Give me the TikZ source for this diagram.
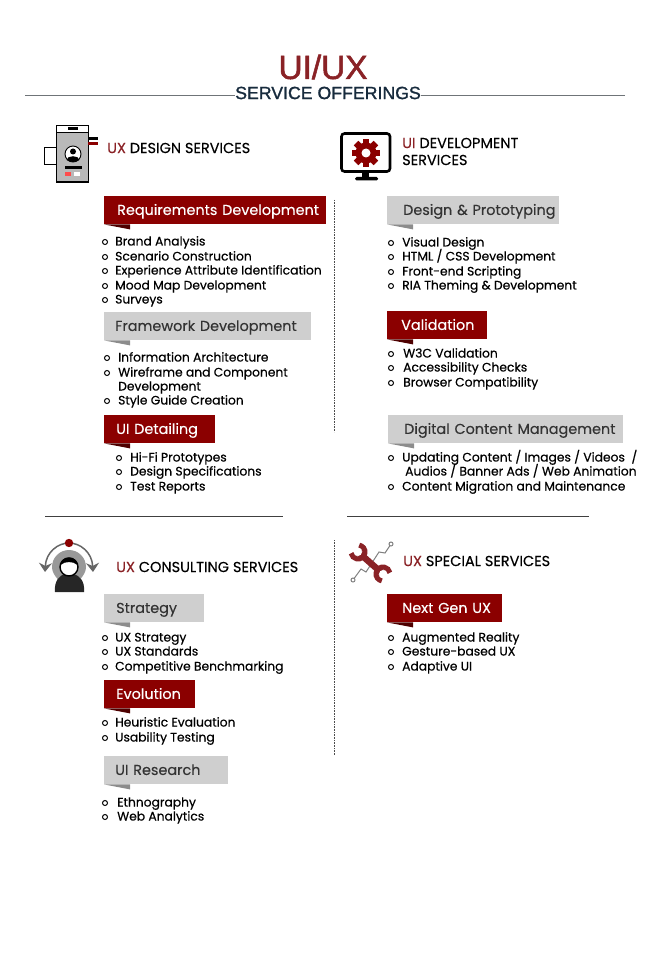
\documentclass[tikz,border=0pt]{standalone}
\usepackage{fontspec}
\usepackage{xcolor}
\setmainfont{Poppins}
\newfontfamily\headfont{Liberation Sans}[FakeBold=1.6]
\newfontfamily\subheadfont{Liberation Sans}[FakeBold=1.3]
\newfontfamily\itemfont{Poppins}[FakeBold=0.5]
\newfontfamily\tagfont{Poppins}[FakeBold=0.2]
\usetikzlibrary{arrows.meta,positioning}
\definecolor{tagred}{HTML}{8B0000}
\definecolor{foldred}{HTML}{4E0000}
\definecolor{tiered}{HTML}{8A2226}
\definecolor{taggrey}{HTML}{CFCFCF}
\definecolor{foldgrey}{HTML}{8C8C8C}
\definecolor{navy}{HTML}{172B3D}
\definecolor{rulegrey}{HTML}{6F7478}
\tikzset{
  titlenode/.style={inner sep=0pt,font=\headfont\fontsize{33.4}{36}\selectfont,text=tiered},
  subtitlenode/.style={inner sep=0pt,font=\subheadfont\fontsize{17.7}{20}\selectfont,text=navy},
  headnode/.style={anchor=west,inner sep=0pt,align=left,font=\tagfont\fontsize{14.5}{17}\selectfont},
  redtag/.style={fill=tagred,text=white},
  greytag/.style={fill=taggrey,text=black!80},
  itemnode/.style={anchor=base west,yshift=-4.5pt,inner sep=0pt,font=\itemfont\fontsize{12.3}{14}\selectfont},
  bulletnode/.style={circle,draw,line width=1pt,inner sep=0pt,minimum size=5pt},
  dotline/.style={densely dotted,line width=0.6pt,black!70},
  sectionrule/.style={line width=0.8pt,rulegrey},
  wrenchline/.style={tiered,line width=5pt}
}
\newcommand{\tagbox}[8]{
  \node[#1,anchor=north west,minimum height=28pt,inner ysep=0pt,inner xsep=#6pt,
    text width=#5pt-2*#6pt,text height=12pt,text depth=2.5pt,align=left,font=\tagfont\fontsize{14.4}{15}\selectfont] (#2) at (#3,#4) {\mbox{#7}};
  \fill[#8] (#2.south west) -- ++(26,0) -- ++(0,5) -- cycle;
}
\newcommand{\rowitem}[5]{
  \node[itemnode] (#1) at (#3,#4) {#5};
  \node[bulletnode] (#1b) at (#2,#4+1) {};
}
\begin{document}
\begin{tikzpicture}[x=1pt,y=-1pt]
  \useasboundingbox (0,0) rectangle (650,957);

  \node[titlenode] (title) at (323,67) {UI/UX};
  \node[subtitlenode] (subtitle) at (328,93) {SERVICE OFFERINGS};
  \coordinate (ruleL) at (25,95);
  \coordinate (ruleR) at (625,95);
  \draw[sectionrule] (ruleL) -- (ruleL -| subtitle.west);
  \draw[sectionrule] (ruleR) -- (ruleR -| subtitle.east);

  \fill[gray!55] (56,125) rectangle (89,182);
  \draw[white,fill=white] (57,126) rectangle (88,132);
  \draw[line width=1.5pt] (56.5,125.5) rectangle (88.5,182);
  \draw[line width=1.5pt] (56.5,132.5) -- (88.5,132.5);
  \fill (68,127.5) rectangle (78,130);
  \draw[line width=1pt,fill=white] (44.5,147.5) rectangle (56,165);
  \fill (88,137) rectangle (98,140);
  \fill[tagred] (88,142) rectangle (98,145);
  \draw[line width=0.9pt,fill=white] (73,154) circle (8);
  \fill (73,151.5) circle (3);
  \fill (66.5,160) .. controls (67,155) and (79,155) .. (79.5,160) .. controls (76,162.5) and (70,162.5) .. (66.5,160);
  \fill (65,166) rectangle (82,169);
  \fill[red!70] (65,172) rectangle (71,176);
  \fill[white] (74,172) rectangle (80,176);

  \draw[line width=2.6pt,rounded corners=3pt] (341.5,133.5) rectangle (390,171.5);
  \fill (362,172) rectangle (369,178);
  \fill[rounded corners=1.5pt] (355,177) rectangle (378,180.5);
  \coordinate (gear) at (366,153);
  \fill[tagred] (gear) circle (10.5);
  \foreach \ang in {0,45,...,315}
    \fill[tagred,rotate around={\ang:(gear)}] (362.8,139) rectangle (369.2,146);
  \fill[white] (gear) circle (4.5);

  \fill[gray!80] (52,567) arc (180:360:17) .. controls (86,575) and (78,582) .. (69,590) .. controls (60,582) and (52,575) .. (52,567);
  \fill[black!85] (55,592) .. controls (54,580) and (60,576) .. (64,574) -- (74,574) .. controls (79,576) and (85,580) .. (84,592) -- cycle;
  \draw[line width=1.4pt,fill=white] (69,567) circle (9);
  \fill (60.5,565) .. controls (61,555) and (77,555) .. (77.5,565) .. controls (73,561) and (65,561) .. (60.5,565);
  \draw[black!60,line width=1.5pt,-{Stealth[length=9pt,width=13pt]}] (69,543) .. controls (58,543) and (46,552) .. (45,572);
  \draw[black!60,line width=1.5pt,-{Stealth[length=9pt,width=13pt]}] (69,543) .. controls (80,543) and (92,552) .. (93,572);
  \fill[tagred] (69,543) circle (4.2);

  \draw[gray,line width=1pt] (353,580) -- (361,569) -- (366,572) -- (379,552) -- (385,553) -- (391,544);
  \draw[gray,line width=1pt,fill=white] (353,580) circle (2);
  \draw[gray,line width=1pt,fill=white] (391,544) circle (2);
  \coordinate (jawa) at (358,552);
  \coordinate (jawb) at (383,574);
  \draw[tiered,line width=6.5pt] (jawa) -- (jawb);
  \fill[white] (jawa) circle (4);
  \fill[white] (jawb) circle (4);
  \draw[wrenchline] ([shift={(-80:7)}]jawa) arc (-80:170:7);
  \draw[wrenchline] ([shift={(100:7)}]jawb) arc (100:350:7);

  \node[headnode] (uxdesign) at (107,148) {\textcolor{tiered}{UX} DESIGN SERVICES};
  \node[headnode] (uidev) at (402,151.5) {\textcolor{tiered}{UI} DEVELOPMENT\\SERVICES};
  \node[headnode] (uxconsult) at (116,567) {\textcolor{tiered}{UX} CONSULTING SERVICES};
  \node[headnode] (uxspecial) at (403,561) {\textcolor{tiered}{UX} SPECIAL SERVICES};

  \tagbox{redtag}{reqdev}{104}{196}{222}{13}{Requirements Development}{foldred}
  \rowitem{brand}{105}{115}{241}{Brand Analysis}
  \rowitem{scenario}{105}{115}{256}{Scenario Construction}
  \rowitem{attrib}{105}{115}{270}{Experience Attribute Identification}
  \rowitem{mood}{105}{115}{285}{Mood Map Development}
  \rowitem{surveys}{105}{115}{299}{Surveys}

  \tagbox{greytag}{framedev}{104}{312}{207}{11}{Framework Development}{foldgrey}
  \rowitem{infoarch}{107}{118}{357}{Information Architecture}
  \rowitem{wireframe}{107}{118}{372}{Wireframe and Component}
  \node[itemnode] (wireframeb2) at (118,386) {Development};
  \rowitem{styleguide}{107}{118}{400}{Style Guide Creation}

  \tagbox{redtag}{uidetail}{104}{415}{111}{12}{UI Detailing}{foldred}
  \rowitem{hifi}{119}{130}{457}{Hi-Fi Prototypes}
  \rowitem{specs}{119}{130}{471}{Design Specifications}
  \rowitem{testrep}{119}{130}{486}{Test Reports}

  \tagbox{greytag}{designproto}{387}{196}{172}{16}{Design \& Prototyping}{foldgrey}
  \rowitem{visual}{391}{402}{242}{Visual Design}
  \rowitem{htmlcss}{391}{402}{256}{HTML / CSS Development}
  \rowitem{frontend}{391}{402}{271}{Front-end Scripting}
  \rowitem{riatheme}{391}{402}{285}{RIA Theming \& Development}

  \tagbox{redtag}{validation}{387}{311}{100}{14}{Validation}{foldred}
  \rowitem{wthreec}{391}{403}{353}{W3C Validation}
  \rowitem{access}{391}{403}{367}{Accessibility Checks}
  \rowitem{browser}{391}{403}{382}{Browser Compatibility}

  \tagbox{greytag}{digital}{388}{415}{235}{16}{Digital Content Management}{foldgrey}
  \rowitem{updating}{391}{402}{457}{Updating Content / Images / Videos~~/}
  \node[itemnode] (updatingb2) at (405,471) {Audios / Banner Ads / Web Animation};
  \rowitem{migration}{391}{402}{486}{Content Migration and Maintenance}

  \tagbox{greytag}{strategy}{104}{594}{100}{12}{Strategy}{foldgrey}
  \rowitem{uxstrat}{105}{115}{637}{UX Strategy}
  \rowitem{uxstand}{105}{115}{651}{UX Standards}
  \rowitem{bench}{105}{115}{666}{Competitive Benchmarking}

  \tagbox{redtag}{evolution}{104}{680}{91}{12}{Evolution}{foldred}
  \rowitem{heuristic}{105}{115}{722}{Heuristic Evaluation}
  \rowitem{usability}{105}{115}{737}{Usability Testing}

  \tagbox{greytag}{uiresearch}{104}{756}{124}{11}{UI Research}{foldgrey}
  \rowitem{ethno}{105}{117}{802}{Ethnography}
  \rowitem{analytics}{105}{117}{816}{Web Analytics}

  \tagbox{redtag}{nextgen}{387}{594}{115}{15}{Next Gen UX}{foldred}
  \rowitem{augmented}{391}{402}{637}{Augmented Reality}
  \rowitem{gesture}{391}{402}{651}{Gesture-based UX}
  \rowitem{adaptive}{391}{402}{666}{Adaptive UI}

  \draw[dotline] (334,200) -- (334,432);
  \draw[dotline] (334,540) -- (334,755);
  \draw[line width=0.7pt,black!75] (45,516) -- (283,516);
  \draw[line width=0.7pt,black!75] (347,516) -- (589,516);
\end{tikzpicture}
\end{document}
